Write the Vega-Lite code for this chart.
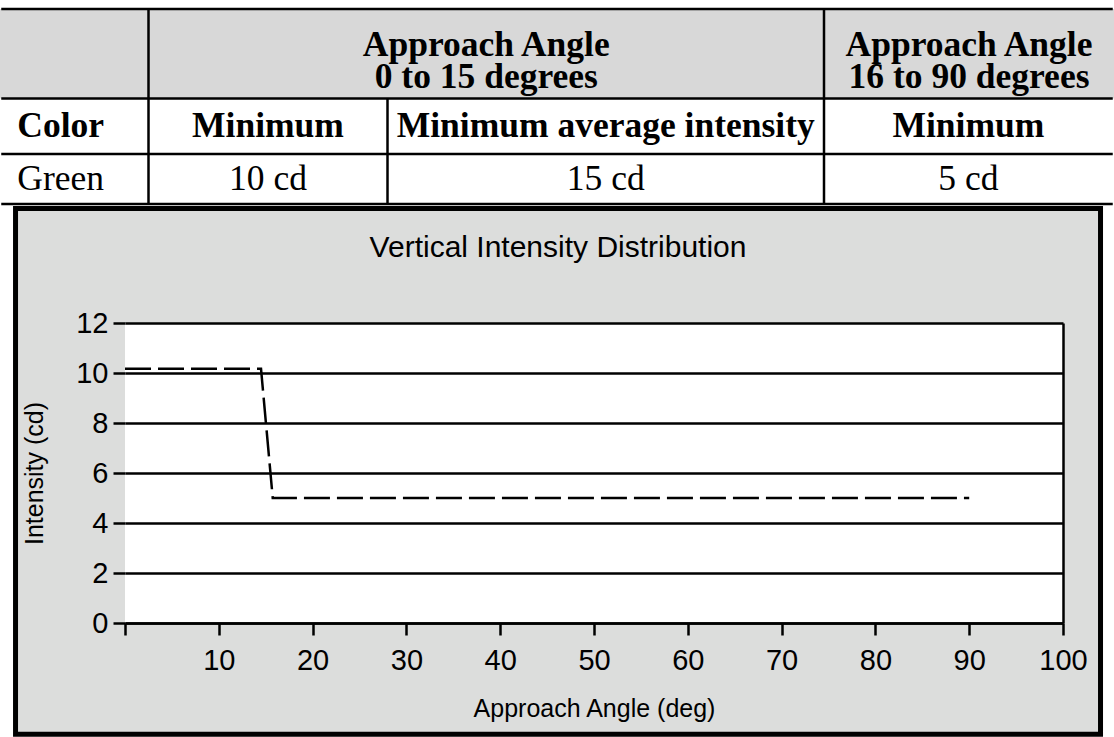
{
  "$schema": "https://vega.github.io/schema/vega-lite/v6.json",
  "padding": 0,
  "background": "white",
  "spacing": 0,
  "config": {
    "view": {"stroke": null},
    "font": "Liberation Sans"
  },
  "vconcat": [
    {
      "width": 989,
      "height": 205,
      "resolve": {"scale": {"x": "independent"}},
      "layer": [
        {
          "data": {
            "values": [
              {"r0": 0, "r1": 1, "c0": 0, "c1": 1, "label": ""},
              {"r0": 0, "r1": 1, "c0": 1, "c1": 3, "label": "Approach Angle\n0 to 15 degrees"},
              {"r0": 0, "r1": 1, "c0": 3, "c1": 4, "label": "Approach Angle\n16 to 90 degrees"}
            ]
          },
          "transform": [
            {"calculate": "(datum.c0 + datum.c1) / 2", "as": "cm"},
            {"calculate": "(datum.r0 + datum.r1) / 2", "as": "rm"}
          ],
          "layer": [
            {
              "mark": {"type": "rect", "fill": "#d8d8d8"},
              "encoding": {
                "x": {"field": "c0", "type": "quantitative", "axis": null,
                      "scale": {"domain": [0, 1, 3, 4], "range": [-125, 23.5, 699, 989], "nice": false, "zero": false}},
                "x2": {"field": "c1"},
                "y": {"field": "r0", "type": "quantitative", "axis": null,
                      "scale": {"domain": [0, 1, 2, 3], "range": [9, 98.5, 154, 204], "nice": false, "zero": false}},
                "y2": {"field": "r1"}
              }
            },
            {
              "mark": {"type": "text", "font": "Liberation Serif", "fontWeight": "bold", "fontSize": 35.5,
                       "lineBreak": "\n", "lineHeight": 32, "color": "black", "dy": -9},
              "encoding": {
                "x": {"field": "cm", "type": "quantitative", "axis": null},
                "y": {"field": "rm", "type": "quantitative", "axis": null},
                "text": {"field": "label"}
              }
            }
          ]
        },
        {
          "layer": [
            {
              "data": {"name": "cells", "values": [
                {"r0": 1, "r1": 2, "c0": 0, "c1": 1, "label": "Color"},
                {"r0": 1, "r1": 2, "c0": 1, "c1": 2, "label": "Minimum"},
                {"r0": 1, "r1": 2, "c0": 2, "c1": 3, "label": "Minimum average intensity"},
                {"r0": 1, "r1": 2, "c0": 3, "c1": 4, "label": "Minimum"},
                {"r0": 2, "r1": 3, "c0": 0, "c1": 1, "label": "Green"},
                {"r0": 2, "r1": 3, "c0": 1, "c1": 2, "label": "10 cd"},
                {"r0": 2, "r1": 3, "c0": 2, "c1": 3, "label": "15 cd"},
                {"r0": 2, "r1": 3, "c0": 3, "c1": 4, "label": "5 cd"}
              ]},
              "transform": [
                {"calculate": "(datum.c0 + datum.c1) / 2", "as": "cm"},
                {"calculate": "(datum.r0 + datum.r1) / 2", "as": "rm"}
              ],
              "layer": [
                {
                  "transform": [{"filter": "datum.c0 > 0 && datum.r0 == 1"}],
                  "mark": {"type": "text", "font": "Liberation Serif", "fontWeight": "bold", "fontSize": 35.5, "color": "black"},
                  "encoding": {
                    "x": {"field": "cm", "type": "quantitative", "axis": null,
                          "scale": {"domain": [0, 1, 2, 3, 4], "range": [-123.75, 23.5, 262.5, 699, 987.75], "nice": false, "zero": false}},
                    "y": {"field": "rm", "type": "quantitative", "axis": null},
                    "text": {"field": "label"}
                  }
                },
                {
                  "transform": [{"filter": "datum.c0 > 0 && datum.r0 == 2"}],
                  "mark": {"type": "text", "font": "Liberation Serif", "fontSize": 35.5, "color": "black"},
                  "encoding": {
                    "x": {"field": "cm", "type": "quantitative", "axis": null},
                    "y": {"field": "rm", "type": "quantitative", "axis": null},
                    "text": {"field": "label"}
                  }
                },
                {
                  "transform": [{"filter": "datum.c0 == 0 && datum.r0 == 1"}],
                  "mark": {"type": "text", "font": "Liberation Serif", "fontWeight": "bold", "fontSize": 35.5, "color": "black", "align": "left", "dx": 16},
                  "encoding": {
                    "x": {"field": "c0", "type": "quantitative", "axis": null},
                    "y": {"field": "rm", "type": "quantitative", "axis": null},
                    "text": {"field": "label"}
                  }
                },
                {
                  "transform": [{"filter": "datum.c0 == 0 && datum.r0 == 2"}],
                  "mark": {"type": "text", "font": "Liberation Serif", "fontSize": 35.5, "color": "black", "align": "left", "dx": 16},
                  "encoding": {
                    "x": {"field": "c0", "type": "quantitative", "axis": null},
                    "y": {"field": "rm", "type": "quantitative", "axis": null},
                    "text": {"field": "label"}
                  }
                }
              ]
            },
            {
              "data": {"name": "borders", "values": [
                {"r0": 0, "r1": 0, "c0": 0, "c1": 4},
                {"r0": 1, "r1": 1, "c0": 0, "c1": 4},
                {"r0": 2, "r1": 2, "c0": 0, "c1": 4},
                {"r0": 3, "r1": 3, "c0": 0, "c1": 4},
                {"r0": 0, "r1": 3, "c0": 1, "c1": 1},
                {"r0": 1, "r1": 3, "c0": 2, "c1": 2},
                {"r0": 0, "r1": 3, "c0": 3, "c1": 3}
              ]},
              "mark": {"type": "rule", "color": "black", "strokeWidth": 2.5, "strokeCap": "butt"},
              "encoding": {
                "x": {"field": "c0", "type": "quantitative", "axis": null},
                "x2": {"field": "c1"},
                "y": {"field": "r0", "type": "quantitative", "axis": null},
                "y2": {"field": "r1"}
              }
            }
          ]
        }
      ]
    },
    {
      "width": 938,
      "height": 300,
      "title": {
        "text": "Vertical Intensity Distribution",
        "frame": "bounds",
        "anchor": "middle",
        "orient": "top",
        "baseline": "alphabetic",
        "offset": -81,
        "font": "Liberation Sans",
        "fontSize": 30,
        "fontWeight": "normal",
        "color": "black"
      },
      "layer": [
        {
          "data": {"values": [{}]},
          "mark": {"type": "rect", "fill": "#dcdddc", "stroke": "black", "strokeWidth": 5},
          "encoding": {
            "x": {"datum": -11.67, "type": "quantitative", "scale": {"domain": [0, 100], "nice": false, "zero": false}},
            "x2": {"datum": 104},
            "y": {"datum": 16.58, "type": "quantitative", "scale": {"domain": [0, 12], "nice": false, "zero": false}},
            "y2": {"datum": -4.45}
          }
        },
        {
          "data": {"values": [{}]},
          "mark": {"type": "rect", "fill": "white"},
          "encoding": {
            "x": {"datum": 0, "type": "quantitative"},
            "x2": {"datum": 100},
            "y": {"datum": 0, "type": "quantitative"},
            "y2": {"datum": 12}
          }
        },
        {
          "data": {"values": [
            {"angle": 0, "intensity": 10.17},
            {"angle": 14.5, "intensity": 10.17},
            {"angle": 15.75, "intensity": 5},
            {"angle": 90, "intensity": 5}
          ]},
          "mark": {"type": "line", "color": "black", "strokeWidth": 2.5, "strokeDash": [26, 7], "strokeCap": "butt"},
          "encoding": {
            "x": {
              "field": "angle", "type": "quantitative",
              "scale": {"domain": [0, 100], "nice": false, "zero": false},
              "axis": {
                "title": "Approach Angle (deg)",
                "values": [0, 10, 20, 30, 40, 50, 60, 70, 80, 90, 100],
                "labelExpr": "datum.value == 0 ? '' : datum.label",
                "labelFont": "Liberation Sans", "labelFontSize": 29, "labelColor": "black",
                "labelPadding": 11, "labelFlush": false, "labelOverlap": false,
                "domainColor": "black", "domainWidth": 2.5,
                "tickColor": "black", "tickWidth": 2.5, "tickSize": 12,
                "grid": true, "gridColor": "black", "gridWidth": 2.5,
                "gridOpacity": {"condition": {"test": "datum.value == 100", "value": 1}, "value": 0},
                "titleFont": "Liberation Sans", "titleFontSize": 25, "titleFontWeight": "normal",
                "titleColor": "black", "titlePadding": 21,
                "zindex": 1
              }
            },
            "y": {
              "field": "intensity", "type": "quantitative",
              "scale": {"domain": [0, 12], "nice": false, "zero": false},
              "axis": {
                "title": "Intensity (cd)",
                "values": [0, 2, 4, 6, 8, 10, 12],
                "domain": false,
                "labelFont": "Liberation Sans", "labelFontSize": 29, "labelColor": "black", "labelPadding": 5,
                "tickColor": "black", "tickWidth": 2.5, "tickSize": 12,
                "grid": true, "gridColor": "black", "gridWidth": 2.5,
                "titleFont": "Liberation Sans", "titleFontSize": 25, "titleFontWeight": "normal",
                "titleColor": "black", "titlePadding": 28,
                "zindex": 1
              }
            }
          }
        }
      ]
    }
  ]
}
